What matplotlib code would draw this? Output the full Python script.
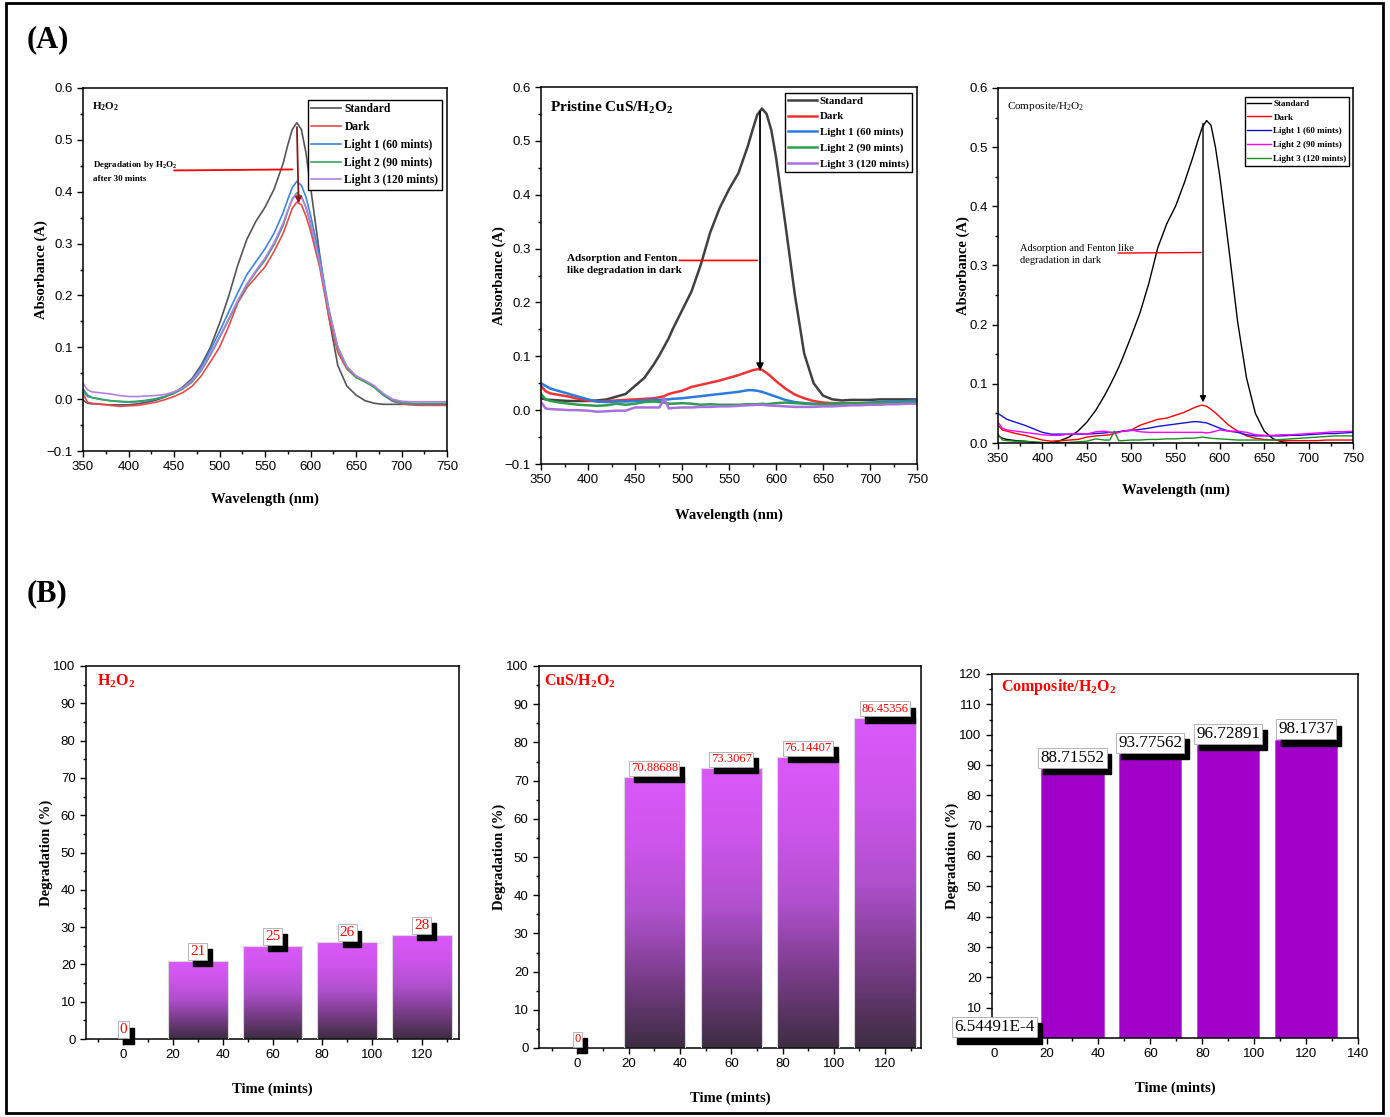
import numpy as np
import matplotlib
matplotlib.use("Agg")
import matplotlib.pyplot as plt
from matplotlib.colors import LinearSegmentedColormap
from matplotlib.patches import Rectangle
from matplotlib.ticker import MultipleLocator

plt.rcParams['font.family'] = ['Liberation Sans', 'DejaVu Sans']
plt.rcParams['mathtext.default'] = 'regular'
SERIF = ['Liberation Serif', 'DejaVu Serif']

# ---------------- SPECTRA DATA ----------------
series_names = ["Standard", "Dark", "Light 1 (60 mints)", "Light 2 (90 mints)", "Light 3 (120 mints)"]

wl_a1 = [350, 355, 360, 370, 380, 390, 400, 410, 420, 430, 440, 450, 460, 470, 480, 490, 500,
         510, 520, 530, 540, 550, 560, 570, 575, 580, 585, 590, 595, 600, 610, 620, 630, 640, 650,
         660, 670, 680, 690, 700, 710, 720, 730, 740, 750]

a1_standard = [-0.002, -0.008, -0.009, -0.010, -0.011, -0.011, -0.011, -0.009, -0.006, -0.002, 0.004,
               0.012, 0.024, 0.040, 0.066, 0.100, 0.146, 0.198, 0.258, 0.308, 0.343, 0.370, 0.405,
               0.455, 0.490, 0.520, 0.533, 0.520, 0.475, 0.410, 0.280, 0.160, 0.065, 0.025, 0.008,
               -0.003, -0.008, -0.010, -0.010, -0.010, -0.010, -0.010, -0.010, -0.010, -0.010]
a1_dark = [0.010, -0.006, -0.008, -0.010, -0.012, -0.014, -0.013, -0.012, -0.009, -0.006, -0.001,
           0.005, 0.013, 0.025, 0.045, 0.072, 0.100, 0.140, 0.185, 0.215, 0.235, 0.255, 0.285,
           0.320, 0.344, 0.368, 0.380, 0.375, 0.353, 0.325, 0.255, 0.160, 0.090, 0.058, 0.042,
           0.034, 0.024, 0.008, -0.004, -0.009, -0.011, -0.012, -0.012, -0.012, -0.012]
a1_light1 = [0.015, 0.005, 0.003, 0.000, -0.003, -0.005, -0.006, -0.005, -0.003, 0.000, 0.005,
             0.012, 0.022, 0.038, 0.062, 0.095, 0.130, 0.168, 0.205, 0.240, 0.265, 0.290, 0.320,
             0.360, 0.385, 0.408, 0.420, 0.412, 0.390, 0.355, 0.275, 0.175, 0.100, 0.062, 0.043,
             0.034, 0.023, 0.008, -0.003, -0.007, -0.009, -0.009, -0.009, -0.009, -0.009]
a1_light2 = [0.020, 0.008, 0.003, -0.001, -0.003, -0.004, -0.005, -0.004, -0.002, 0.001, 0.005,
             0.011, 0.020, 0.033, 0.055, 0.085, 0.118, 0.153, 0.188, 0.220, 0.245, 0.268, 0.298,
             0.335, 0.362, 0.386, 0.398, 0.391, 0.370, 0.338, 0.262, 0.170, 0.098, 0.060, 0.042,
             0.033, 0.023, 0.008, -0.002, -0.006, -0.008, -0.008, -0.008, -0.008, -0.008]
a1_light3 = [0.030, 0.018, 0.014, 0.012, 0.010, 0.007, 0.005, 0.005, 0.006, 0.007, 0.009,
             0.014, 0.022, 0.036, 0.058, 0.088, 0.120, 0.155, 0.190, 0.222, 0.248, 0.272, 0.302,
             0.340, 0.364, 0.385, 0.396, 0.390, 0.370, 0.340, 0.265, 0.172, 0.100, 0.063, 0.045,
             0.036, 0.026, 0.011, 0.000, -0.004, -0.005, -0.005, -0.005, -0.005, -0.005]

wl_b = [350, 355, 360, 370, 380, 390, 400, 410, 420, 430, 440, 450, 460, 470, 476, 481, 486, 490,
        500, 510, 520, 530, 540, 550, 560, 570, 575, 580, 585, 590, 595, 600, 610, 620, 630, 640,
        650, 660, 670, 680, 690, 700, 710, 720, 730, 740, 750]

a2_standard = [0.022, 0.020, 0.019, 0.018, 0.017, 0.017, 0.017, 0.018, 0.020, 0.025, 0.030, 0.045,
               0.060, 0.085, 0.102, 0.118, 0.134, 0.150, 0.185, 0.220, 0.270, 0.330, 0.375, 0.410,
               0.440, 0.490, 0.520, 0.548, 0.560, 0.550, 0.520, 0.470, 0.345, 0.215, 0.105, 0.050,
               0.027, 0.020, 0.018, 0.019, 0.019, 0.019, 0.020, 0.020, 0.020, 0.020, 0.020]
a2_dark = [0.045, 0.035, 0.031, 0.028, 0.025, 0.021, 0.018, 0.016, 0.017, 0.018, 0.019, 0.020,
           0.021, 0.022, 0.024, 0.026, 0.030, 0.032, 0.036, 0.043, 0.047, 0.051, 0.055, 0.060,
           0.065, 0.071, 0.074, 0.076, 0.075, 0.069, 0.062, 0.054, 0.040, 0.029, 0.022, 0.017,
           0.014, 0.013, 0.013, 0.013, 0.013, 0.013, 0.014, 0.014, 0.015, 0.015, 0.016]
a2_light1 = [0.050, 0.045, 0.040, 0.035, 0.030, 0.025, 0.020, 0.016, 0.015, 0.016, 0.016, 0.017,
             0.018, 0.019, 0.019, 0.020, 0.020, 0.021, 0.022, 0.024, 0.026, 0.028, 0.030, 0.032,
             0.034, 0.037, 0.037, 0.036, 0.034, 0.031, 0.028, 0.025, 0.019, 0.015, 0.013, 0.012,
             0.011, 0.011, 0.012, 0.012, 0.013, 0.014, 0.015, 0.016, 0.016, 0.017, 0.018]
a2_light2 = [0.030, 0.020, 0.017, 0.014, 0.012, 0.010, 0.009, 0.008, 0.009, 0.012, 0.010, 0.012,
             0.015, 0.016, 0.015, 0.014, 0.012, 0.012, 0.013, 0.012, 0.010, 0.011, 0.010, 0.010,
             0.010, 0.011, 0.011, 0.011, 0.012, 0.011, 0.012, 0.013, 0.014, 0.013, 0.012, 0.011,
             0.011, 0.012, 0.012, 0.013, 0.013, 0.013, 0.014, 0.014, 0.014, 0.015, 0.015]
a2_light3 = [0.015, 0.003, 0.002, 0.001, 0.000, 0.000, -0.001, -0.003, -0.002, -0.001, -0.001, 0.005,
             0.005, 0.005, 0.005, 0.022, 0.003, 0.004, 0.005, 0.005, 0.006, 0.006, 0.007, 0.007,
             0.008, 0.009, 0.0095, 0.010, 0.010, 0.009, 0.0085, 0.008, 0.007, 0.006, 0.006, 0.006,
             0.007, 0.007, 0.008, 0.009, 0.009, 0.010, 0.010, 0.011, 0.011, 0.012, 0.012]

a3_standard = [0.012, 0.008, 0.006, 0.004, 0.003, 0.001, 0.000, 0.000, 0.004, 0.010, 0.020, 0.035,
               0.055, 0.080, 0.097, 0.112, 0.128, 0.142, 0.180, 0.220, 0.270, 0.330, 0.370, 0.400,
               0.440, 0.485, 0.510, 0.533, 0.545, 0.537, 0.500, 0.450, 0.330, 0.205, 0.110, 0.050,
               0.020, 0.007, 0.002, 0.000, 0.000, 0.000, 0.000, 0.000, 0.000, 0.000, 0.000]
a3_dark = [0.030, 0.022, 0.020, 0.016, 0.013, 0.009, 0.005, 0.003, 0.004, 0.005, 0.006, 0.010,
           0.012, 0.013, 0.014, 0.016, 0.018, 0.020, 0.022, 0.030, 0.035, 0.040, 0.042, 0.047,
           0.052, 0.059, 0.062, 0.064, 0.062, 0.057, 0.051, 0.044, 0.030, 0.020, 0.012, 0.008,
           0.006, 0.005, 0.004, 0.004, 0.004, 0.004, 0.004, 0.005, 0.005, 0.005, 0.005]
a3_light1 = [0.050, 0.045, 0.040, 0.035, 0.030, 0.024, 0.018, 0.015, 0.015, 0.015, 0.015, 0.015,
             0.016, 0.017, 0.018, 0.018, 0.019, 0.020, 0.021, 0.023, 0.025, 0.028, 0.030, 0.032,
             0.034, 0.036, 0.036, 0.035, 0.034, 0.031, 0.028, 0.025, 0.020, 0.018, 0.014, 0.012,
             0.012, 0.012, 0.012, 0.013, 0.013, 0.014, 0.015, 0.016, 0.016, 0.017, 0.018]
a3_light2 = [0.035, 0.025, 0.022, 0.020, 0.018, 0.016, 0.014, 0.013, 0.013, 0.015, 0.016, 0.015,
             0.019, 0.020, 0.018, 0.017, 0.018, 0.020, 0.022, 0.019, 0.018, 0.018, 0.018, 0.018,
             0.018, 0.018, 0.018, 0.018, 0.017, 0.018, 0.020, 0.022, 0.020, 0.020, 0.018, 0.014,
             0.013, 0.013, 0.014, 0.014, 0.015, 0.016, 0.017, 0.018, 0.019, 0.019, 0.020]
a3_light3 = [0.015, 0.005, 0.004, 0.003, 0.003, 0.002, 0.001, 0.000, 0.001, 0.001, 0.002, 0.003,
             0.007, 0.005, 0.005, 0.020, 0.004, 0.004, 0.005, 0.005, 0.006, 0.006, 0.007, 0.007,
             0.008, 0.008, 0.009, 0.010, 0.009, 0.008, 0.0075, 0.007, 0.006, 0.005, 0.005, 0.005,
             0.005, 0.005, 0.006, 0.007, 0.008, 0.009, 0.010, 0.011, 0.012, 0.012, 0.012]

# ---------------- DEGRADATION DATA ----------------
times = [0, 30, 60, 90, 120]
deg_h2o2 = [0, 21, 25, 26, 28]
deg_cus = [0, 70.88688, 73.3067, 76.14407, 86.45356]
deg_comp = [6.54491e-4, 88.71552, 93.77562, 96.72891, 98.1737]
lbl_h2o2 = ["0", "21", "25", "26", "28"]
lbl_cus = ["0", "70.88688", "73.3067", "76.14407", "86.45356"]
lbl_comp = ["6.54491E-4", "88.71552", "93.77562", "96.72891", "98.1737"]

W, H = 1390, 1117
fig = plt.figure(figsize=(W / 100, H / 100), dpi=100)


def add_ax(left, top, right, bottom):
    return fig.add_axes([left / W, 1 - bottom / H, (right - left) / W, (bottom - top) / H])


def style(ax, xmaj, xmin, ymaj, ymin):
    ax.xaxis.set_major_locator(MultipleLocator(xmaj))
    ax.xaxis.set_minor_locator(MultipleLocator(xmin))
    ax.yaxis.set_major_locator(MultipleLocator(ymaj))
    ax.yaxis.set_minor_locator(MultipleLocator(ymin))
    ax.tick_params(which='both', direction='out', top=False, right=False, labelsize=9.5, width=1)
    ax.tick_params(which='major', length=4)
    ax.tick_params(which='minor', length=2.5)
    for s in ax.spines.values():
        s.set_linewidth(1.1)


# ---------------- (A) SPECTRA ----------------
panels_a = [
    dict(box=(83, 88, 447, 451), wl=wl_a1, ys=[a1_standard, a1_dark, a1_light1, a1_light2, a1_light3],
         colors=['#555555', '#e84a4a', '#3a86e0', '#3aa35a', '#b37fe8'], lw=1.2, ylim=(-0.1, 0.6),
         title=r'H$_2$O$_2$', tsize=8, tweight='bold', leg=(0.986, 0.967), lsize=8.3, lsp=0.5, xpad=14),
    dict(box=(541, 87, 917, 464), wl=wl_b, ys=[a2_standard, a2_dark, a2_light1, a2_light2, a2_light3],
         colors=['#404040', '#ee3333', '#2a7ae0', '#2e9e4e', '#a970e0'], lw=1.8, ylim=(-0.1, 0.6),
         title=r'Pristine CuS/H$_2$O$_2$', tsize=11, tweight='bold', leg=(0.987, 0.984), lsize=7.8, lsp=0.55,
         xpad=16),
    dict(box=(998, 88, 1353, 443), wl=wl_b, ys=[a3_standard, a3_dark, a3_light1, a3_light2, a3_light3],
         colors=['black', 'red', '#1414d8', '#ff00ff', '#1a9020'], lw=1.0, ylim=(0.0, 0.6),
         title=r'Composite/H$_2$O$_2$', tsize=8, tweight='normal', leg=(0.99, 0.975), lsize=6.5, lsp=0.6,
         xpad=13),
]

axes_a = []
for p in panels_a:
    ax = add_ax(*p['box'])
    for y, c, name in zip(p['ys'], p['colors'], series_names):
        ax.plot(p['wl'], y, color=c, lw=p['lw'], label=name)
    ax.set_xlim(350, 750)
    ax.set_ylim(*p['ylim'])
    style(ax, 50, 25, 0.1, 0.05)
    ax.set_xlabel('Wavelength (nm)', family=SERIF, weight='bold', fontsize=10.5, labelpad=p['xpad'])
    ax.set_ylabel('Absorbance (A)', family=SERIF, weight='bold', fontsize=10.5, labelpad=-1)
    ax.text(0.025, 0.965, p['title'], transform=ax.transAxes, family=SERIF, weight=p['tweight'],
            fontsize=p['tsize'], va='top', ha='left')
    leg = ax.legend(loc='upper right', bbox_to_anchor=p['leg'], borderaxespad=0, fancybox=False,
                    edgecolor='black', framealpha=1, handlelength=2.6, handletextpad=0.3,
                    labelspacing=p['lsp'], borderpad=0.3,
                    prop=dict(family=SERIF, weight='bold', size=p['lsize']))
    leg.get_frame().set_linewidth(1.0)
    axes_a.append(ax)

# annotations
ax = axes_a[0]
ax.text(361, 0.44, r'Degradation by H$_2$O$_2$' + '\nafter 30 mints', family=SERIF, weight='bold',
        fontsize=6.5, va='center', linespacing=1.6)
ax.annotate('', xy=(583, 0.443), xytext=(447, 0.441), arrowprops=dict(arrowstyle='-', color='red', lw=1.3))
ax.annotate('', xy=(587, 0.372), xytext=(585, 0.53),
            arrowprops=dict(arrowstyle='-|>', color='#8b1a1a', lw=1.3, mutation_scale=9))

ax = axes_a[1]
ax.text(378, 0.27, 'Adsorption and Fenton\nlike degradation in dark', family=SERIF, weight='bold',
        fontsize=8, va='center', linespacing=1.5)
ax.annotate('', xy=(583, 0.278), xytext=(494, 0.278), arrowprops=dict(arrowstyle='-', color='red', lw=1.2))
ax.annotate('', xy=(583, 0.068), xytext=(583, 0.56),
            arrowprops=dict(arrowstyle='-|>', color='black', lw=1.3, mutation_scale=10))

ax = axes_a[2]
ax.text(375, 0.319, 'Adsorption and Fenton like\ndegradation in dark', family=SERIF,
        fontsize=7.5, va='center', linespacing=1.5)
ax.annotate('', xy=(582, 0.322), xytext=(482, 0.321), arrowprops=dict(arrowstyle='-', color='red', lw=1.0))
ax.annotate('', xy=(581, 0.064), xytext=(581, 0.545),
            arrowprops=dict(arrowstyle='-|>', color='black', lw=1.0, mutation_scale=9))

# ---------------- (B) DEGRADATION BARS ----------------
grad_cmap = LinearSegmentedColormap.from_list(
    'bar', [(0.0, '#3c2d41'), (0.25, '#783c87'), (0.5, '#af50cd'), (0.75, '#cd55eb'), (1.0, '#da58fa')])
ramp = np.linspace(0, 1, 256).reshape(-1, 1)


def value_label(ax, x, y, text, color, size, pad=0.12):
    common = dict(xy=(x, y), textcoords='offset points', ha='center', va='bottom',
                  fontsize=size, family=SERIF, annotation_clip=False)
    ax.annotate(text, xytext=(3.5, -2.5), color='black', zorder=5,
                bbox=dict(boxstyle='square,pad=%g' % pad, fc='black', ec='black'), **common)
    ax.annotate(text, xytext=(0, 2), color=color, zorder=6,
                bbox=dict(boxstyle='square,pad=%g' % pad, fc='white', ec='#aaaaaa', lw=0.6), **common)


panels_b = [
    dict(box=(86, 666, 459, 1039), vals=deg_h2o2, lbls=lbl_h2o2, xlim=(-15, 135), ylim=(0, 100), xmax=120,
         title=r'H$_2$O$_2$', tpos=(-10.5, 95.8), lcolor='red', lsize=11, grad=True),
    dict(box=(539, 666, 921, 1048), vals=deg_cus, lbls=lbl_cus, xlim=(-15, 134), ylim=(0, 100), xmax=120,
         title=r'CuS/H$_2$O$_2$', tpos=(-13, 95.9), lcolor='red', lsize=9, grad=True),
    dict(box=(992, 674, 1358, 1038), vals=deg_comp, lbls=lbl_comp, xlim=(-1, 140), ylim=(0, 120), xmax=140,
         title=r'Composite/H$_2$O$_2$', tpos=(2.6, 115.8), lcolor='black', lsize=12.3, grad=False),
]

for p in panels_b:
    ax = add_ax(*p['box'])
    if p['grad']:
        bars = ax.bar(times, p['vals'], width=24, facecolor='none', edgecolor='#d9d9d9', lw=0.8, zorder=3)
        for b in bars:
            if b.get_height() <= 0:
                continue
            x0 = b.get_x()
            im = ax.imshow(ramp, extent=(x0, x0 + b.get_width(), 0, b.get_height()), origin='lower',
                           cmap=grad_cmap, aspect='auto', zorder=2, interpolation='bilinear')
            im.set_clip_path(b)
    else:
        ax.bar(times, p['vals'], width=24, color='#a000c8', edgecolor='#c040e0', lw=0.6, zorder=2)
    ax.set_xlim(*p['xlim'])
    ax.set_ylim(*p['ylim'])
    style(ax, 20, 10, 10, 5)
    ax.set_xticks(np.arange(0, p['xmax'] + 1, 20))
    ax.set_xlabel('Time (mints)', family=SERIF, weight='bold', fontsize=10.5, labelpad=15)
    ax.set_ylabel('Degradation (%)', family=SERIF, weight='bold', fontsize=10.5, labelpad=0)
    ax.text(p['tpos'][0], p['tpos'][1], p['title'], family=SERIF, weight='bold', fontsize=11.5,
            color='red', va='center', ha='left')
    for t, v, s in zip(times, p['vals'], p['lbls']):
        value_label(ax, t, v, s, p['lcolor'], p['lsize'])

# ---------------- FIGURE LABELS + BORDER ----------------
fig.text(27 / W, 1 - 40 / H, '(A)', family=SERIF, weight='bold', fontsize=22, va='center')
fig.text(27 / W, 1 - 594 / H, '(B)', family=SERIF, weight='bold', fontsize=22, va='center')
fig.add_artist(Rectangle((6 / W, 4 / H), 1377 / W, 1110 / H, transform=fig.transFigure,
                         fill=False, edgecolor='black', lw=2))

fig.savefig('out.png', dpi=100)
